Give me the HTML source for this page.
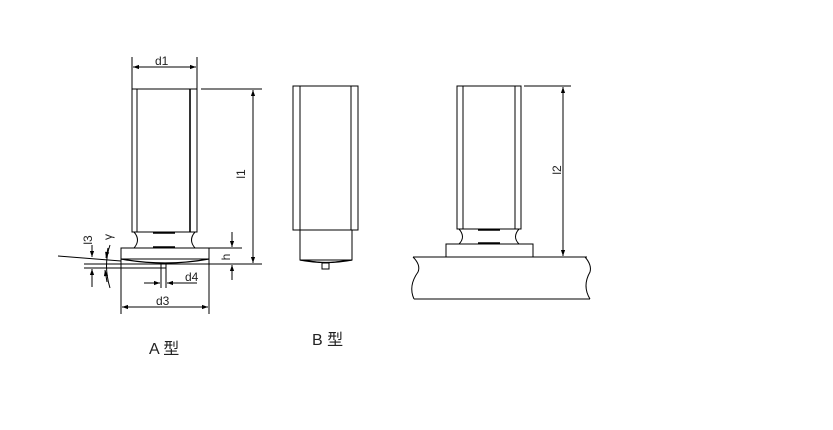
<!DOCTYPE html>
<html><head><meta charset="utf-8"><style>
html,body{margin:0;padding:0;background:#fff;}
svg{display:block;}
text{font-family:"Liberation Sans","Noto Sans CJK SC",sans-serif;fill:#222;}
</style></head><body>
<svg width="833" height="430" viewBox="0 0 833 430" xmlns="http://www.w3.org/2000/svg">
<defs>
<marker id="a" viewBox="0 0 10 10" refX="10" refY="5" markerWidth="8" markerHeight="6" orient="auto-start-reverse" markerUnits="userSpaceOnUse"><path d="M0,1.5 L10,5 L0,8.5 z" fill="#000"/></marker>
</defs>
<g stroke="#000" stroke-width="1" fill="none">
<rect x="132" y="89" width="65" height="143"/>
<line x1="137" y1="89" x2="137" y2="232"/>
<line x1="190" y1="89" x2="190" y2="232" stroke-width="1.6"/>
<path d="M134,232 Q141,240 134,248"/>
<path d="M195,232 Q188,240 195,248"/>
<line x1="153" y1="233" x2="175" y2="233" stroke-width="1.5"/>
<line x1="153" y1="247" x2="175" y2="247" stroke-width="1.5"/>
<rect x="121" y="248" width="88" height="11"/>
<path d="M121,259 Q165,267 209,259" stroke-width="1.3"/>
<rect x="161" y="263" width="5" height="5"/>
<line x1="84" y1="264" x2="262" y2="264"/>
<line x1="84" y1="268" x2="161" y2="268"/>
<line x1="58" y1="256" x2="121" y2="261"/>
<line x1="132" y1="57" x2="132" y2="89"/>
<line x1="197" y1="57" x2="197" y2="89"/>
<line x1="133" y1="67" x2="196" y2="67" marker-start="url(#a)" marker-end="url(#a)"/>
<line x1="201" y1="89" x2="262" y2="89"/>
<line x1="253" y1="90" x2="253" y2="263" marker-start="url(#a)" marker-end="url(#a)"/>
<line x1="209" y1="248" x2="242" y2="248"/>
<line x1="232" y1="232" x2="232" y2="247" marker-end="url(#a)"/>
<line x1="232" y1="280" x2="232" y2="265" marker-end="url(#a)"/>
<line x1="92" y1="245" x2="92" y2="257" marker-end="url(#a)"/>
<line x1="92" y1="287" x2="92" y2="269" marker-end="url(#a)"/>
<path d="M110,245 Q103,265 110,288"/>
<line x1="108" y1="248" x2="106" y2="258" marker-end="url(#a)"/>
<line x1="107" y1="282" x2="105" y2="270" marker-end="url(#a)"/>
<line x1="161" y1="268" x2="161" y2="288"/>
<line x1="166" y1="268" x2="166" y2="288"/>
<line x1="144" y1="283" x2="160" y2="283" marker-end="url(#a)"/>
<line x1="197" y1="283" x2="167" y2="283" marker-end="url(#a)"/>
<line x1="121" y1="259" x2="121" y2="314"/>
<line x1="209" y1="259" x2="209" y2="314"/>
<line x1="122" y1="307" x2="208" y2="307" marker-start="url(#a)" marker-end="url(#a)"/>
<rect x="293" y="86" width="65" height="144"/>
<line x1="300" y1="86" x2="300" y2="230"/>
<line x1="351" y1="86" x2="351" y2="230"/>
<path d="M300,230 V260 H352 V230"/>
<path d="M300,260 Q326,265 352,260" stroke-width="1.3"/>
<path d="M300,260 L326,263 L352,260"/>
<rect x="322" y="263" width="7" height="6"/>
<rect x="457" y="86" width="64" height="143"/>
<line x1="463" y1="86" x2="463" y2="229"/>
<line x1="515" y1="86" x2="515" y2="229"/>
<path d="M459,229 Q466,237 459,244"/>
<path d="M519,229 Q512,237 519,244"/>
<line x1="478" y1="230" x2="500" y2="230" stroke-width="1.5"/>
<line x1="478" y1="243" x2="500" y2="243" stroke-width="1.5"/>
<rect x="446" y="244" width="87" height="13"/>
<line x1="413" y1="257" x2="587" y2="257"/>
<line x1="414" y1="299" x2="590" y2="299"/>
<path d="M413,257 Q421,265 418,272 Q408,286 414,299"/>
<path d="M585,257 Q592,265 590,272 Q582,286 590,299"/>
<line x1="524" y1="86" x2="571" y2="86"/>
<line x1="563" y1="87" x2="563" y2="256" marker-start="url(#a)" marker-end="url(#a)"/>
</g>
<g font-size="12">
<text x="155" y="65">d1</text>
<text x="156" y="305">d3</text>
<text x="185" y="281">d4</text>
<text transform="translate(245,174) rotate(-90)" text-anchor="middle">l1</text>
<text transform="translate(230,257) rotate(-90)" text-anchor="middle">h</text>
<text transform="translate(92,240) rotate(-90)" text-anchor="middle">l3</text>
<text transform="translate(112,237) rotate(-90)" text-anchor="middle">γ</text>
<text transform="translate(561,170) rotate(-90)" text-anchor="middle">l2</text>
</g>
<text x="149" y="354" font-size="16">A 型</text>
<text x="312" y="345" font-size="16">B 型</text>
</svg>
</body></html>
